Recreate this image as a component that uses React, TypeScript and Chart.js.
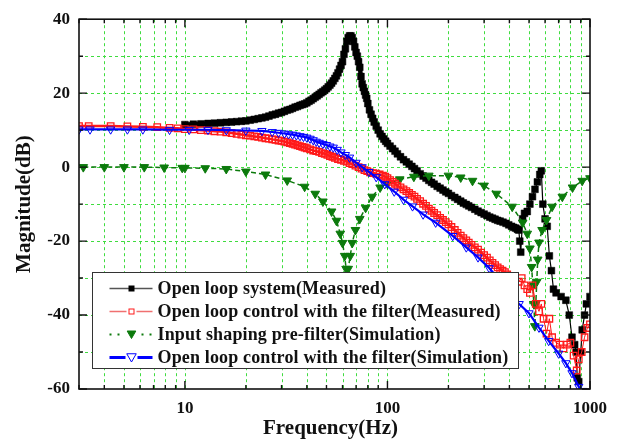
import React, { useEffect, useRef } from "react";
import { Chart, registerables } from "chart.js";

Chart.register(...registerables);

// [frequency (Hz), magnitude (dB)]
const openLoopMeasured: [number, number][] = [
  [10, 11.5], [11, 11.6], [12, 11.7], [13, 11.8], [14, 11.9], [15, 12], [16, 12.1], [17, 12.2], [18, 12.3],
  [19, 12.4], [20, 12.5], [21, 12.7], [22, 12.9], [23, 13.1], [24, 13.3], [25, 13.5], [26, 13.8],
  [27, 14.1], [28, 14.3], [29, 14.6], [30, 14.8], [31, 15.1], [32, 15.4], [33, 15.6], [34, 15.9],
  [35, 16.2], [36, 16.4], [37, 16.7], [38, 16.9], [39, 17.1], [40, 17.4], [41, 17.8], [42, 18.1],
  [43, 18.5], [44, 18.9], [45, 19.3], [46, 19.7], [47, 20.1], [48, 20.4], [49, 20.8], [50, 21.2],
  [51, 21.7], [52, 22.2], [53, 22.7], [54, 23.3], [55, 24], [56, 24.7], [57, 25.5], [58, 26.5],
  [59, 27.5], [60, 28.5], [61, 30.5], [62, 32], [63, 34], [64, 35], [65, 35.5], [66, 35.5],
  [67, 35], [68, 34], [69, 32.5], [70, 31], [71, 30], [72, 28.5], [73, 27], [74, 24.5],
  [75, 22.5], [76, 21.5], [77, 20.5], [78, 19.5], [79, 18.6], [80, 17.2], [81.5, 15.5], [83, 14.3],
  [84.5, 13.2], [86, 12.2], [88, 11.1], [90, 10], [92, 9], [94, 8.3], [96, 7.6], [98, 7],
  [100, 6.4], [103, 5.7], [106, 5], [109, 4.3], [112, 3.6], [116, 2.8], [120, 2], [124, 1.4],
  [128, 0.8], [132, 0.2], [136, -0.4], [140, -1], [145, -1.8], [150, -2.4], [155, -3], [160, -3.6],
  [165, -4.1], [170, -4.6], [176, -5.2], [182, -5.7], [188, -6.2], [194, -6.7], [200, -7.1],
  [207, -7.7], [215, -8.2], [222, -8.7], [230, -9.2], [237, -9.7], [245, -10.1], [252, -10.5],
  [260, -10.9], [270, -11.4], [280, -11.9], [290, -12.3], [300, -12.7], [310, -13.1], [320, -13.5],
  [330, -13.8], [340, -14.1], [350, -14.4], [360, -14.6], [372, -14.9], [385, -15.2], [397, -15.6],
  [410, -16], [420, -16.3], [430, -16.5], [438, -16.8], [445, -17], [450, -20], [455, -23],
  [465, -14], [475, -12.5], [490, -12], [505, -10], [520, -8], [535, -6], [550, -4], [565, -2],
  [575, -1], [585, -10], [600, -14], [615, -16], [630, -24], [645, -28], [660, -33], [680, -34],
  [720, -35], [760, -36], [790, -40], [815, -46], [840, -48], [855, -50], [865, -57], [880, -58],
  [900, -50], [915, -44], [940, -40], [960, -37], [1000, -35],
];

const filterMeasured: [number, number][] = [
  [3, 11.1], [3.35, 11.1], [4.3, 11.1], [5.2, 11], [6.2, 10.9], [7.3, 10.8], [8.4, 10.6],
  [9.2, 10.5], [10, 10.3], [11, 10.2], [12, 10], [13, 9.9], [14, 9.7], [15, 9.6], [16, 9.4],
  [17, 9.2], [18, 9], [19, 8.8], [20, 8.6], [21, 8.5], [22, 8.3], [23, 8.2], [24, 8], [25, 7.8],
  [26, 7.7], [27, 7.5], [28, 7.4], [29, 7.2], [30, 7.1], [31, 6.9], [32, 6.7], [33, 6.5],
  [34, 6.3], [35, 6.1], [36, 5.9], [37, 5.7], [38, 5.5], [39, 5.3], [40, 5.1], [41.5, 4.8],
  [43, 4.5], [44.5, 4.3], [46, 4.1], [47.5, 3.8], [49, 3.6], [50.5, 3.3], [52, 3], [53.5, 2.8],
  [55, 2.5], [57, 2.2], [59, 2], [61, 1.7], [63, 1.5], [65, 1.1], [67, 0.8], [69.5, 0.4], [72, 0],
  [74.5, -0.4], [77, -0.8], [79.5, -1.1], [82, -1.4], [85, -1.6], [88, -1.8], [91.5, -2],
  [95, -2.3], [97.5, -2.6], [100, -3], [103, -3.5], [106, -4], [109, -4.5], [112, -5], [116, -5.5],
  [120, -6], [124, -6.5], [128, -7], [132, -7.5], [136, -8], [140, -8.6], [145, -9.2], [150, -9.9],
  [155, -10.5], [160, -11.2], [165, -11.8], [170, -12.4], [176, -13], [182, -13.7], [188, -14.3],
  [194, -14.9], [200, -15.5], [207, -16.2], [215, -17], [222, -17.8], [230, -18.5], [237, -19.2],
  [245, -19.8], [252, -20.4], [260, -21], [270, -21.7], [280, -22.3], [290, -23.1], [300, -23.8],
  [310, -24.5], [320, -25.2], [330, -25.9], [340, -26.5], [350, -27.1], [360, -27.6], [370, -28],
  [380, -28.4], [390, -29], [400, -29.5], [420, -30.5], [445, -31], [460, -30], [475, -32],
  [490, -33], [505, -34], [520, -32], [540, -37], [560, -39], [575, -37], [590, -41], [610, -45],
  [630, -41], [650, -46], [680, -47.5], [710, -48], [740, -49], [770, -48], [800, -47.5],
  [830, -51], [860, -55], [880, -52], [910, -50], [940, -46], [970, -43.5], [1000, -42.5],
];

const shapingSim: [number, number][] = [
  [3.15, 0], [4, 0], [5, 0], [6.3, 0], [7.9, -0.1], [9.7, -0.2], [10, -0.2], [12.6, -0.3],
  [16, -0.5], [20, -1.2], [25, -2], [32, -3.6], [39, -5.3], [44, -7.2], [48, -9.3], [53, -12],
  [56, -14.5], [58.5, -18], [60, -20.5], [61.5, -24], [62.5, -27.5], [64, -27.5], [65.5, -24],
  [67, -20.5], [69.5, -17], [73, -14], [78, -11], [84, -8], [92, -5.5], [100, -4.5], [115, -3.3],
  [135, -2.6], [160, -2.3], [200, -2.3], [230, -2.8], [263, -3.7], [300, -5], [345, -7.2],
  [413, -10.7], [465, -15], [490, -18], [505, -22], [515, -27], [522, -32], [528, -37], [534, -43],
  [540, -37], [546, -31], [552, -25], [560, -20.4], [580, -17], [610, -14.3], [650, -10.7],
  [730, -8], [820, -5.5], [915, -3.7], [1000, -3],
];

const filterSim: [number, number][] = [
  [3, 10.2], [3.4, 10.2], [4.3, 10.2], [5.2, 10.2], [6.2, 10.2], [8.4, 10.1], [10.5, 10.1],
  [13, 10.1], [16, 10], [20, 9.9], [24, 9.8], [27, 9.5], [29, 9.3], [31, 9.1], [32.5, 8.9],
  [34, 8.8], [35.5, 8.6], [37, 8.4], [38.5, 8.2], [40, 8], [41.5, 7.7], [43, 7.3], [44.5, 6.9],
  [46, 6.6], [48, 6.3], [50, 6], [52, 5.6], [54, 5.3], [56.5, 4.7], [59, 4], [62, 3.3], [65, 2.6],
  [70, 1.2], [75, 0], [81, -1.3], [88, -2.7], [97, -4.6], [108, -6.6], [120, -8.8], [133, -10.6],
  [150, -12.8], [173, -15], [210, -18.6], [245, -21.7], [280, -24.4], [318, -27.3], [350, -30],
  [385, -33], [420, -35.5], [447, -37], [500, -39.5], [560, -43.4], [625, -47], [700, -50.4],
  [760, -53], [815, -55.7], [880, -59.4], [920, -60.5],
];

const legendLabels = [
  "Open loop system(Measured)",
  "Open loop control with the filter(Measured)",
  "Input shaping pre-filter(Simulation)",
  "Open loop control with the filter(Simulation)",
];

const xGridValues = [
  3, 4, 5, 6, 7, 8, 9, 10, 20, 30, 40, 50, 60, 70, 80, 90, 100, 200, 300, 400, 500, 600, 700, 800, 900, 1000,
];
const xMajorValues = [10, 100, 1000];
const yGridValues = [-60, -50, -40, -30, -20, -10, 0, 10, 20, 30, 40];
const yMajorValues = [-60, -40, -20, 0, 20, 40];
const xTitle = "Frequency(Hz)";
const yTitle = "Magnitude(dB)";
const noisyFrom = 445; // Hz: above this the measured curves become scattered

const SERIF = '"Liberation Serif", "Times New Roman", serif';
const GRID_COLOR = "#3fdc3f";
const BLACK = "#000000";
const RED = "#ff1a1a";
const GREEN = "#0c7a0c";
const BLUE = "#0000ff";

const toXY = (arr: [number, number][]) => arr.map(([x, y]) => ({ x, y }));

function drawTri(ctx: CanvasRenderingContext2D, cx: number, cy: number, r: number, fill: string | null, stroke: string) {
  ctx.beginPath();
  ctx.moveTo(cx - r * 0.866, cy - r * 0.5);
  ctx.lineTo(cx + r * 0.866, cy - r * 0.5);
  ctx.lineTo(cx, cy + r);
  ctx.closePath();
  if (fill) {
    ctx.fillStyle = fill;
    ctx.fill();
  }
  ctx.strokeStyle = stroke;
  ctx.lineWidth = 1;
  ctx.stroke();
}

const customPlugin = {
  id: "customDecor",
  beforeDatasetsDraw(chart: any) {
    const { ctx, chartArea: a, scales } = chart;
    const x = scales.x;
    const y = scales.y;
    ctx.save();
    ctx.strokeStyle = GRID_COLOR;
    ctx.lineWidth = 1;
    ctx.setLineDash([3, 3]);
    for (const v of xGridValues) {
      const px = Math.round(x.getPixelForValue(v)) + 0.5;
      if (px <= a.left + 1 || px >= a.right - 1) continue;
      ctx.beginPath();
      ctx.moveTo(px, a.top);
      ctx.lineTo(px, a.bottom);
      ctx.stroke();
    }
    for (const v of yGridValues) {
      const py = Math.round(y.getPixelForValue(v)) + 0.5;
      if (py <= a.top + 1 || py >= a.bottom - 1) continue;
      ctx.beginPath();
      ctx.moveTo(a.left, py);
      ctx.lineTo(a.right, py);
      ctx.stroke();
    }
    ctx.restore();
  },
  afterDatasetsDraw(chart: any) {
    const { ctx, chartArea: a, scales } = chart;
    const x = scales.x;
    const y = scales.y;
    ctx.save();
    ctx.setLineDash([]);
    // frame
    ctx.strokeStyle = "#111";
    ctx.lineWidth = 1.6;
    ctx.strokeRect(a.left, a.top, a.right - a.left, a.bottom - a.top);
    // ticks inside
    ctx.lineWidth = 1.4;
    ctx.beginPath();
    for (const v of xGridValues) {
      const px = x.getPixelForValue(v);
      const len = xMajorValues.includes(v) ? 8 : 4;
      ctx.moveTo(px, a.bottom);
      ctx.lineTo(px, a.bottom - len);
      ctx.moveTo(px, a.top);
      ctx.lineTo(px, a.top + len);
    }
    for (const v of yGridValues) {
      const py = y.getPixelForValue(v);
      const len = yMajorValues.includes(v) ? 8 : 4;
      ctx.moveTo(a.left, py);
      ctx.lineTo(a.left + len, py);
      ctx.moveTo(a.right, py);
      ctx.lineTo(a.right - len, py);
    }
    ctx.stroke();

    // legend
    const lx = a.left + 13.5;
    const ly = a.bottom - 116.5;
    const lw = 426;
    const lh = 96;
    ctx.fillStyle = "#ffffff";
    ctx.fillRect(lx, ly, lw, lh);
    ctx.strokeStyle = "#333";
    ctx.lineWidth = 1;
    ctx.strokeRect(lx, ly, lw, lh);
    const sx0 = lx + 17;
    const sx1 = lx + 60;
    const mx = lx + 39;
    const tx = lx + 65;
    ctx.font = `bold 18px ${SERIF}`;
    try {
      (ctx as any).letterSpacing = "0.15px";
    } catch (e) {
      /* ignore */
    }
    ctx.textAlign = "left";
    ctx.textBaseline = "middle";
    legendLabels.forEach((label, i) => {
      const ry = ly + 16 + i * 23;
      if (i === 0) {
        ctx.strokeStyle = "#555";
        ctx.lineWidth = 1.5;
        ctx.beginPath();
        ctx.moveTo(sx0, ry);
        ctx.lineTo(sx1, ry);
        ctx.stroke();
        ctx.fillStyle = BLACK;
        ctx.fillRect(mx - 3, ry - 3, 6, 6);
      } else if (i === 1) {
        ctx.strokeStyle = "#f07070";
        ctx.lineWidth = 1.5;
        ctx.beginPath();
        ctx.moveTo(sx0, ry);
        ctx.lineTo(mx - 5, ry);
        ctx.moveTo(mx + 5, ry);
        ctx.lineTo(sx1, ry);
        ctx.stroke();
        ctx.fillStyle = "#fff";
        ctx.fillRect(mx - 3, ry - 3, 6, 6);
        ctx.strokeStyle = RED;
        ctx.lineWidth = 1;
        ctx.strokeRect(mx - 2.5, ry - 2.5, 5, 5);
      } else if (i === 2) {
        ctx.fillStyle = GREEN;
        for (let k = 0; k < 6; k++) {
          const dx = sx0 + k * 8;
          if (Math.abs(dx - mx) < 7) continue;
          ctx.fillRect(dx, ry - 1, 2, 2);
        }
        drawTri(ctx, mx, ry - 1, 5, GREEN, GREEN);
      } else {
        ctx.strokeStyle = BLUE;
        ctx.lineWidth = 3;
        ctx.beginPath();
        ctx.moveTo(sx0, ry);
        ctx.lineTo(mx - 6, ry);
        ctx.moveTo(mx + 6, ry);
        ctx.lineTo(sx1, ry);
        ctx.stroke();
        drawTri(ctx, mx, ry - 1, 5.5, "#fff", BLUE);
      }
      ctx.fillStyle = "#111";
      ctx.fillText(label, tx, ry + 1);
    });
    try {
      (ctx as any).letterSpacing = "0px";
    } catch (e) {
      /* ignore */
    }

    // axis titles
    ctx.fillStyle = "#111";
    ctx.font = `bold 21px ${SERIF}`;
    ctx.textAlign = "center";
    ctx.textBaseline = "middle";
    ctx.fillText(xTitle, (a.left + a.right) / 2 - 4, a.bottom + 40);
    ctx.translate(25, (a.top + a.bottom) / 2);
    ctx.rotate(-Math.PI / 2);
    ctx.fillText(yTitle, 0, 0);
    ctx.restore();
  },
};

export default function App() {
  const canvasRef = useRef<HTMLCanvasElement | null>(null);

  useEffect(() => {
    document.body.style.margin = "0";
    const canvas = canvasRef.current;
    if (!canvas) return;
    const chart = new Chart(canvas, {
      type: "scatter",
      data: {
        datasets: [
          {
            label: legendLabels[0],
            data: toXY(openLoopMeasured),
            showLine: true,
            borderColor: BLACK,
            borderWidth: 4.5,
            segment: {
              borderWidth: (c: any) => (c.p0.parsed.x >= noisyFrom ? 1.2 : 4.5),
            },
            pointStyle: "rect",
            pointRadius: 4.8,
            pointBackgroundColor: BLACK,
            pointBorderColor: BLACK,
            pointBorderWidth: 0.5,
            order: 4,
          },
          {
            label: legendLabels[1],
            data: toXY(filterMeasured),
            showLine: true,
            borderColor: RED,
            borderWidth: 2.5,
            segment: {
              borderWidth: (c: any) => (c.p0.parsed.x >= noisyFrom ? 1 : 2.5),
            },
            pointStyle: "rect",
            pointRadius: 4.6,
            pointBackgroundColor: "rgba(255,255,255,0)",
            pointBorderColor: RED,
            pointBorderWidth: 1.3,
            order: 2,
          },
          {
            label: legendLabels[2],
            data: toXY(shapingSim),
            showLine: true,
            borderColor: GREEN,
            borderWidth: 1.5,
            borderDash: [5, 3],
            pointStyle: "triangle",
            pointRotation: 180,
            pointRadius: 5,
            pointBackgroundColor: GREEN,
            pointBorderColor: GREEN,
            pointBorderWidth: 1,
            order: 3,
          },
          {
            label: legendLabels[3],
            data: toXY(filterSim),
            showLine: true,
            borderColor: BLUE,
            borderWidth: 2.2,
            pointStyle: "triangle",
            pointRotation: 180,
            pointRadius: 4.8,
            pointBackgroundColor: "rgba(255,255,255,0)",
            pointBorderColor: BLUE,
            pointBorderWidth: 1,
            order: 1,
          },
        ],
      },
      options: {
        responsive: false,
        animation: false,
        events: [],
        layout: { padding: { left: 0, top: 12, right: 31, bottom: 0 } },
        plugins: {
          legend: { display: false },
          tooltip: { enabled: false },
          title: { display: false },
        },
        scales: {
          x: {
            type: "logarithmic",
            min: 3,
            max: 1000,
            grid: { display: false, drawTicks: false, tickLength: 0 },
            border: { display: false },
            afterBuildTicks: (s: any) => {
              s.ticks = xGridValues.map((v) => ({ value: v }));
            },
            afterFit: (s: any) => {
              s.height = 58;
            },
            ticks: {
              autoSkip: false,
              maxRotation: 0,
              padding: 9,
              color: "#111",
              font: { family: SERIF, size: 17, weight: "bold" },
              callback: (v: any) => (xMajorValues.includes(Number(v)) ? String(v) : ""),
            },
          },
          y: {
            type: "linear",
            min: -60,
            max: 40,
            grid: { display: false, drawTicks: false, tickLength: 0 },
            border: { display: false },
            afterFit: (s: any) => {
              s.width = 79;
            },
            ticks: {
              stepSize: 10,
              padding: 9,
              color: "#111",
              font: { family: SERIF, size: 17, weight: "bold" },
              callback: (v: any) => (yMajorValues.includes(Number(v)) ? String(v) : ""),
            },
          },
        },
      },
      plugins: [customPlugin],
    } as any);
    return () => chart.destroy();
  }, []);

  return (
    <div style={{ width: 621, height: 447 }}>
      <canvas ref={canvasRef} width={621} height={447} style={{ display: "block" }} />
    </div>
  );
}
